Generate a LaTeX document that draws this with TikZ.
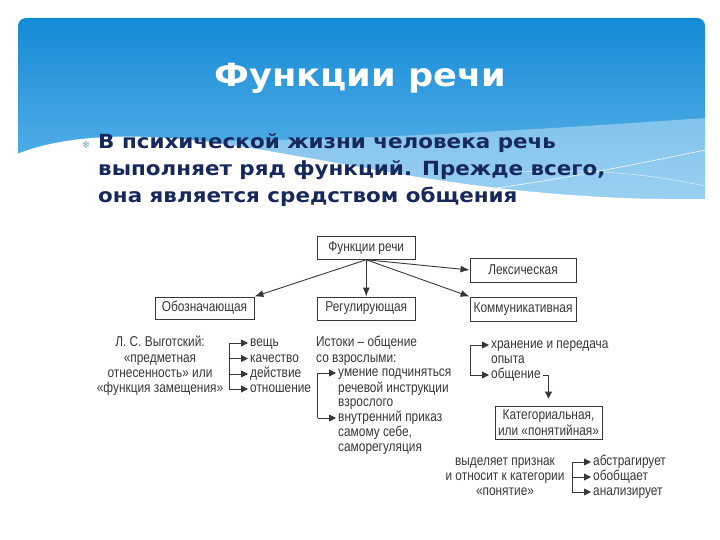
\documentclass[tikz,border=0pt]{standalone}
\usepackage{fontspec}
\setmainfont{DejaVu Sans}
\newfontfamily\hdr[FakeStretch=1.1]{DejaVu Sans}
\newfontfamily\symf{DejaVu Sans}
\newfontfamily\diag[FakeStretch=0.83]{Liberation Sans}
\usetikzlibrary{arrows.meta}
\definecolor{bluetop}{RGB}{20,138,214}
\definecolor{bluebot}{RGB}{120,196,240}
\definecolor{navy}{RGB}{22,40,92}
\definecolor{dgray}{RGB}{55,55,55}
\definecolor{bullc}{RGB}{120,170,200}
\begin{document}
\begin{tikzpicture}[x=1pt,y=-1pt,
  box/.style={draw=dgray, line width=0.9pt, inner sep=0pt, align=center,
    font=\diag\fontsize{14.3}{16}\selectfont, text=dgray},
  dtext/.style={inner sep=0pt, font=\diag\fontsize{14.3}{15.3}\selectfont,
    text=dgray, text height=9.8pt, text depth=2.6pt},
  conn/.style={draw=dgray, line width=0.9pt, -{Latex[length=9pt,width=7pt]}},
  brk/.style={draw=dgray, line width=0.9pt},
  barrow/.style={draw=dgray, line width=0.9pt, -{Triangle[length=7pt,width=7pt]}, shorten >=2pt},
  body/.style={inner sep=0pt, anchor=base west, text=navy, font=\hdr\bfseries\fontsize{19.5}{24}\selectfont}]
\useasboundingbox (0,0) rectangle (720,540);
\fill[white] (0,0) rectangle (720,540);
% header panel
\shade[top color=bluetop, bottom color=bluebot, rounded corners=8pt] (18,18) rectangle (705,245);
\fill[white, opacity=0.35] (200,141) .. controls (380,140) and (560,128) .. (706,118)
  -- (706,199) .. controls (480,202) and (330,156) .. (200,141) -- cycle;
\fill[white] (17,154) .. controls (60,137) and (120,132) .. (200,141)
  .. controls (330,156) and (480,202) .. (706,199) -- (706,247) -- (17,247) -- cycle;
\draw[white, opacity=0.8, line width=0.7pt] (430,196) .. controls (540,185) and (630,165) .. (706,150);
\draw[white, opacity=0.6, line width=0.6pt] (520,172) .. controls (600,168) and (660,176) .. (704,186);
% title and body
\node[text=white, font=\hdr\bfseries\fontsize{32}{36}\selectfont] (title) at (360.5,78) {Функции речи};
\node[text=bullc, font=\symf\fontsize{10}{10}\selectfont] (bul) at (86,145) {❄};
\node[body] (l1) at (98,149) {В психической жизни человека речь};
\node[body] (l2) at (98,176) {выполняет ряд функций. Прежде всего,};
\node[body] (l3) at (98,203) {она является средством общения};
% boxes
\node[box, minimum width=97.5pt, minimum height=22.6pt] (fr) at (366.25,248) {Функции речи};
\node[box, minimum width=106pt, minimum height=24pt] (lex) at (523,270) {Лексическая};
\node[box, minimum width=99pt, minimum height=22pt] (obo) at (204.5,308) {Обозначающая};
\node[box, minimum width=97.5pt, minimum height=23pt] (reg) at (366.25,308.5) {Регулирующая};
\node[box, minimum width=106pt, minimum height=24pt] (kom) at (523,309) {Коммуникативная};
\node[box, minimum width=107pt, minimum height=33pt] (cat) at (548.5,422.5) {Категориальная,\\или «понятийная»};
\draw[conn] (fr.south) -- (obo.north east);
\draw[conn] (fr.south) -- (reg.north);
\draw[conn] (fr.south) -- (lex.west);
\draw[conn] (fr.south) -- (kom.north west);
% Vygotsky
\node[dtext] (g1) at (160,343) {Л. С. Выготский:};
\node[dtext] (g2) at (160,358.5) {«предметная};
\node[dtext] (g3) at (160,374) {отнесенность» или};
\node[dtext] (g4) at (160,389) {«функция замещения»};
\coordinate (sp1) at (229,0);
\node[dtext, anchor=west] (v1) at (250,343) {вещь};
\node[dtext, anchor=west] (v2) at (250,358.5) {качество};
\node[dtext, anchor=west] (v3) at (250,374) {действие};
\node[dtext, anchor=west] (v4) at (250,389) {отношение};
\draw[brk] (v1.west -| sp1) -- (v4.west -| sp1);
\foreach \n in {v1,v2,v3,v4} \draw[barrow] (\n.west -| sp1) -- (\n.west);
% regulating
\node[dtext, anchor=west] (i1) at (316,343) {Истоки – общение};
\node[dtext, anchor=west] (i2) at (316,358.5) {со взрослыми:};
\coordinate (sp2) at (317.5,0);
\node[dtext, anchor=west] (r1) at (338,373) {умение подчиняться};
\node[dtext, anchor=west] (r2) at (338,388.5) {речевой инструкции};
\node[dtext, anchor=west] (r3) at (338,403) {взрослого};
\node[dtext, anchor=west] (r4) at (338,418) {внутренний приказ};
\node[dtext, anchor=west] (r5) at (338,433) {самому себе,};
\node[dtext, anchor=west] (r6) at (338,448) {саморегуляция};
\draw[brk] (r1.west -| sp2) -- (r4.west -| sp2);
\foreach \n in {r1,r4} \draw[barrow] (\n.west -| sp2) -- (\n.west);
% communicative
\coordinate (sp3) at (470,0);
\node[dtext, anchor=west] (k1) at (491,345) {хранение и передача};
\node[dtext, anchor=west] (k0) at (491,360) {опыта};
\node[dtext, anchor=west] (k2) at (491,375) {общение};
\draw[brk] (k1.west -| sp3) -- (k2.west -| sp3);
\foreach \n in {k1,k2} \draw[barrow] (\n.west -| sp3) -- (\n.west);
\draw[draw=dgray, line width=0.9pt, -{Triangle[length=7pt,width=7pt]}, shorten <=2pt, shorten >=7pt]
  (k2.east) -- (k2.east -| cat.north) -- (cat.north);
% categorical
\node[dtext] (s1) at (505,462) {выделяет признак};
\node[dtext] (s2) at (505,477) {и относит к категории};
\node[dtext] (s3) at (505,492) {«понятие»};
\coordinate (sp4) at (572,0);
\node[dtext, anchor=west] (a1) at (593,462) {абстрагирует};
\node[dtext, anchor=west] (a2) at (593,477) {обобщает};
\node[dtext, anchor=west] (a3) at (593,492) {анализирует};
\draw[brk] (a1.west -| sp4) -- (a3.west -| sp4);
\foreach \n in {a1,a2,a3} \draw[barrow] (\n.west -| sp4) -- (\n.west);
\end{tikzpicture}
\end{document}
